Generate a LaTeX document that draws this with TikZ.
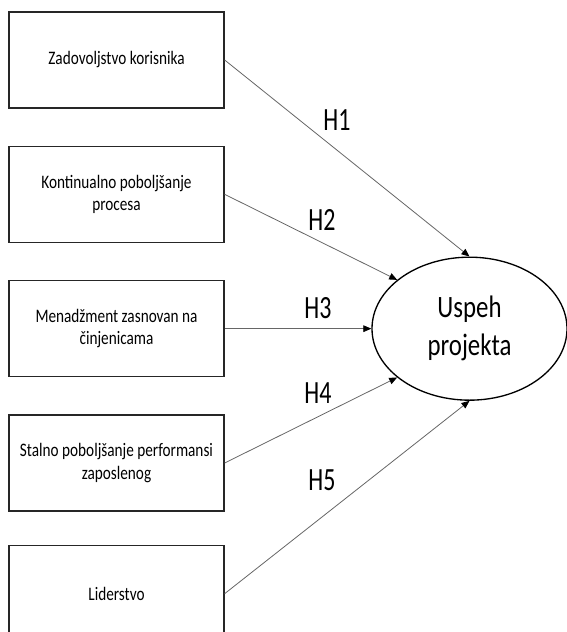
\documentclass[tikz,border=0pt]{standalone}
\usepackage{fontspec}
\newfontfamily\diafont[FakeStretch=0.8]{Carlito}
\newfontfamily\hypfont[FakeStretch=0.74]{Carlito}
\usetikzlibrary{positioning, shapes.geometric, arrows.meta}

\begin{document}
\begin{tikzpicture}[x=0.75pt, y=-0.75pt, node distance=27.75pt,
  factor/.style={draw=black!85, line width=1pt, minimum width=161.25pt, minimum height=72pt, align=center, font=\diafont\fontsize{14.3}{17}\selectfont},
  hyp/.style={font=\hypfont\fontsize{24.3}{26}\selectfont},
  link/.style={draw=black!60, line width=0.6pt, -{Triangle[length=6pt, width=5pt, black]}}]
  \useasboundingbox (0,0) rectangle (567,632);

  % factors on the left
  \node[factor] (zad) at (116.5,60) {Zadovoljstvo korisnika};
  \node[factor, below=of zad] (kont) {Kontinualno poboljšanje\\procesa};
  \node[factor, below=of kont] (men) {Menadžment zasnovan na\\činjenicama};
  \node[factor, below=of men] (stal) {Stalno poboljšanje performansi\\zaposlenog};
  \node[factor, below=25pt of stal] (lid) {Liderstvo};

  % outcome
  \node[draw=black, line width=1pt, ellipse, inner sep=0pt, minimum width=146.25pt, minimum height=107.25pt, align=center, font=\diafont\fontsize{23.3}{28.75}\selectfont, right=110pt of men] (usp) {Uspeh\\projekta};

  % hypotheses
  \draw[link] (zad.east) -- (usp.north);
  \draw[link] (kont.east) -- (usp.146);
  \draw[link] (men.east) -- (usp.west);
  \draw[link] (stal.east) -- (usp.214);
  \draw[link] (lid.east) -- (usp.south);

  \node[hyp] (h1) at (337,120) {H1};
  \node[hyp] (h2) at (322,220) {H2};
  \node[hyp] (h3) at (318,308) {H3};
  \node[hyp] (h4) at (318,393) {H4};
  \node[hyp] (h5) at (322,480) {H5};
\end{tikzpicture}
\end{document}
